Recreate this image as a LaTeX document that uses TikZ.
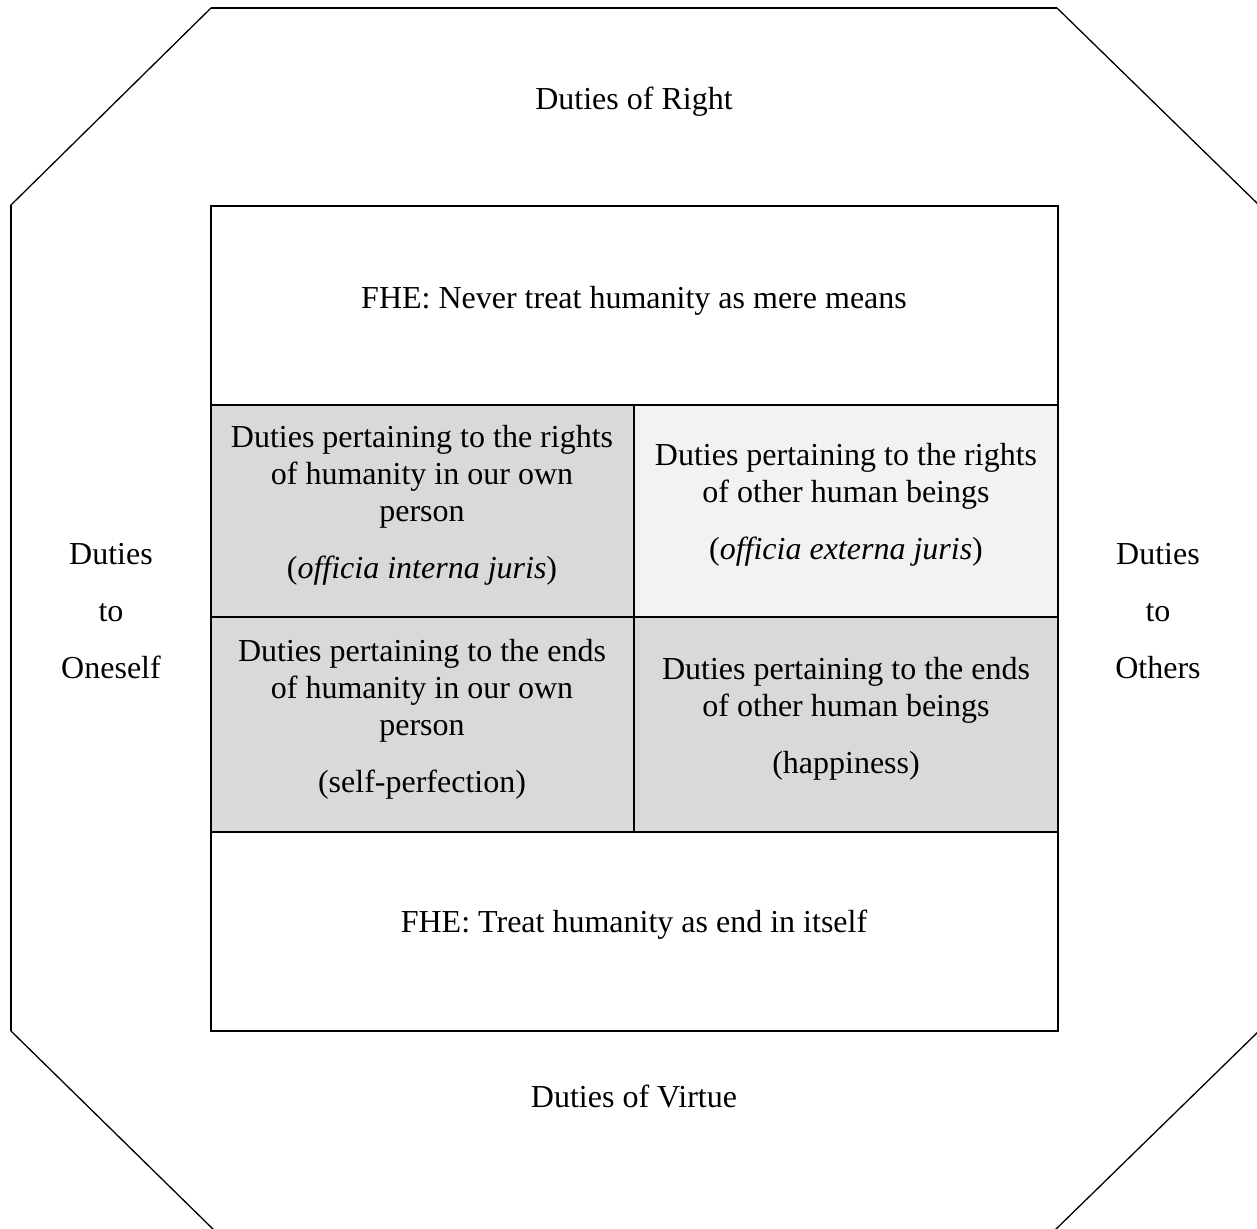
\documentclass[tikz,border=0pt]{standalone}
\usepackage{fontspec}
\setmainfont{Liberation Serif}
\begin{document}
\begin{tikzpicture}[x=1pt,y=-1pt,
  txt/.style={font=\fontsize{32}{37}\selectfont,align=center,inner sep=0pt},
  outerln/.style={draw=black,line width=2pt}]
\useasboundingbox (0,0) rectangle (1257,1228);
% octagon (right and bottom sides lie just beyond the page edge)
\draw[line width=1.3pt] (211,8) -- (1057,8) -- (1262,208) -- (1262,1028) -- (1053,1232) -- (216,1232) -- (11,1031) -- (11,205) -- cycle;
\draw[line width=2pt] (211,8) -- (1057,8);
\draw[line width=2pt] (11,205) -- (11,1031);
% cells
\fill[black!15] (211,405) rectangle (634,832);
\fill[black!5] (634,405) rectangle (1058,617);
\fill[black!15] (634,617) rectangle (1058,832);
\draw[line width=1.5pt] (211,405) -- (1058,405);
\draw[line width=1.5pt] (211,617) -- (1058,617);
\draw[line width=1.5pt] (211,832) -- (1058,832);
\draw[line width=1.5pt] (634,405) -- (634,832);
\draw[outerln] (211,206) rectangle (1058,1031);
% texts
\node[txt] (right) at (634,102) {Duties of Right};
\node[txt] (virtue) at (634,1096) {Duties of Virtue};
\node[txt] (fhe1) at (634,301) {FHE: Never treat humanity as mere means};
\node[txt] (fhe2) at (634,925) {FHE: Treat humanity as end in itself};
\node[txt] (self) at (111,611) {Duties\\[20pt]to\\[20pt]Oneself};
\node[txt] (others) at (1158,611) {Duties\\[20pt]to\\[20pt]Others};
\node[txt] (tl) at (422,505) {Duties pertaining to the rights\\of humanity in our own\\person\\[20pt](\textit{officia interna juris})};
\node[txt] (tr) at (846,505) {Duties pertaining to the rights\\of other human beings\\[20pt](\textit{officia externa juris})};
\node[txt] (bl) at (422,719) {Duties pertaining to the ends\\of humanity in our own\\person\\[20pt](self-perfection)};
\node[txt] (br) at (846,719) {Duties pertaining to the ends\\of other human beings\\[20pt](happiness)};
\end{tikzpicture}
\end{document}
